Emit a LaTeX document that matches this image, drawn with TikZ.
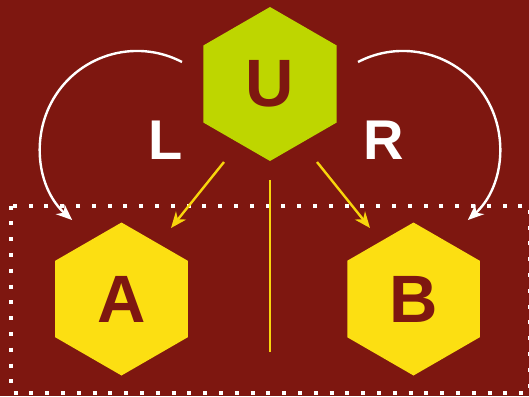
\documentclass[tikz,border=0pt]{standalone}
\usepackage{fontspec}
\setmainfont{Liberation Sans}
\usetikzlibrary{shapes.geometric,arrows.meta}
\definecolor{bgred}{HTML}{7E1710}
\definecolor{lime}{HTML}{BED600}
\definecolor{hexyellow}{HTML}{FCDF12}
\definecolor{arrowyellow}{HTML}{F8D50C}
\tikzset{
  hexnode/.style={regular polygon, regular polygon sides=6, regular polygon rotate=30,
    minimum size=154pt, inner sep=0pt, draw=none, text=bgred,
    font=\fontsize{67}{70}\selectfont\bfseries},
  sidelabel/.style={text=white, inner sep=0pt, font=\fontsize{56}{60}\selectfont\bfseries},
  whitearrow/.style={draw=white, line width=2.4pt, -{Stealth[length=16pt,width=13pt,inset=5pt]}},
  yellowarrow/.style={draw=arrowyellow, line width=2.4pt, -{Stealth[length=16pt,width=13pt,inset=5pt]}},
  dotbox/.style={draw=white, line width=4pt, dash pattern=on 4pt off 11.8pt},
}
\begin{document}
\begin{tikzpicture}[x=1pt,y=-1pt]
\fill[bgred] (0,0) rectangle (529,396);
\useasboundingbox (0,0) rectangle (529,396);
% dotted frame
\draw[dotbox] (11,205.5) rectangle (530,392.5);
% divider
\coordinate (divtop) at (270,180);
\coordinate (divbot) at (270,352);
\draw[arrowyellow, line width=1.6pt] (divtop) -- (divbot);
% hexagons
\node[hexnode, fill=lime] (U) at (270,84) {U};
\node[hexnode, fill=hexyellow, minimum size=153pt] (A) at (121.5,299) {A};
\node[hexnode, fill=hexyellow, minimum size=153pt] (B) at (413.5,299) {B};
% labels
\node[sidelabel] (L) at (166,140) {L};
\node[sidelabel] (R) at (383.5,140) {R};
% yellow arrows
\coordinate (ul) at (224,162);
\coordinate (ur) at (317,162);
\coordinate (at) at (171,228);
\coordinate (bt) at (370,228);
\draw[yellowarrow] (ul) -- (at);
\draw[yellowarrow] (ur) -- (bt);
% white curved arrows
\coordinate (ls) at (182,62);
\coordinate (rs) at (358,62);
\draw[whitearrow] (ls) arc[start angle=-62.4, end angle=-228, radius=97];
\draw[whitearrow] (rs) arc[start angle=-117.6, end angle=48, radius=97];
\end{tikzpicture}
\end{document}
